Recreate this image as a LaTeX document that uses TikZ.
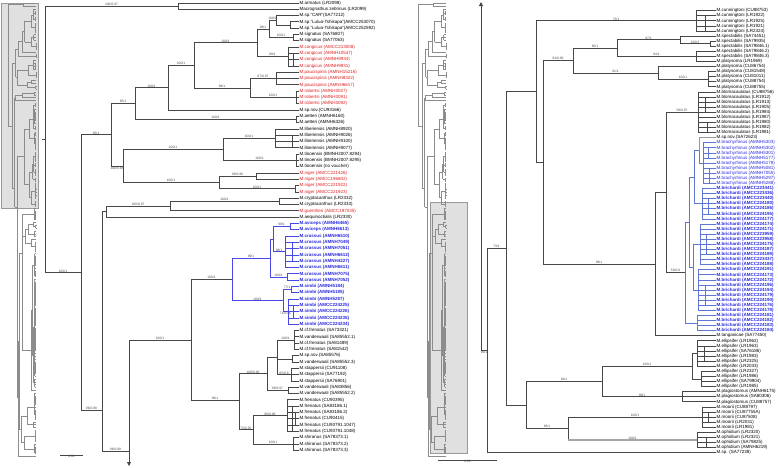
\documentclass[tikz,border=0pt]{standalone}
\usepackage{fontspec}
\setmainfont{Liberation Sans}
\usetikzlibrary{arrows.meta}
\definecolor{tred}{RGB}{226,32,32}
\definecolor{lblue}{RGB}{72,72,230}
\definecolor{rblue}{RGB}{96,118,212}
\definecolor{tblue}{RGB}{40,40,225}
\newcommand\bsl[1]{#1}
\newcommand\ltips[4][br]{%
  \draw[#1] (#2,{3+6.3*(#3-1)}) -- (#2,{3+6.3*(#4-1)});
  \foreach \k in {#3,...,#4} \draw[#1] (#2,{3+6.3*(\k-1)}) -- (299,{3+6.3*(\k-1)});}
\newcommand\rtips[4][br]{%
  \draw[#1] (#2,{10.7+5.08*(#3-1)}) -- (#2,{10.7+5.08*(#4-1)});
  \foreach \k in {#3,...,#4} \draw[#1] (#2,{10.7+5.08*(\k-1)}) -- (716,{10.7+5.08*(\k-1)});}
\tikzset{
  br/.style={line width=0.85pt, black!72, line cap=rect},
  bl/.style={line width=0.95pt, lblue, line cap=rect},
  rb/.style={line width=0.8pt, rblue, line cap=rect},
  gb/.style={line width=1.4pt, black!35},
  bs/.style={above, inner sep=0.2pt, font=\fontsize{3.3}{3.3}\selectfont, text=black!70},
  tip/.style={anchor=west, inner sep=0.5pt, font=\fontsize{4.5}{4.5}\selectfont},
  lk/.style={}, lr/.style={text=tred},
  lb/.style={text=tblue, font=\fontsize{4.5}{4.5}\selectfont\bfseries},
  lp/.style={text=tblue},
  thumb/.style={br/.style={line width=0.25pt,black!45}, bl/.style={line width=0.25pt,black!45},
    rb/.style={line width=0.25pt,black!45}, gb/.style={line width=0.25pt,black!45}}
}
\newcommand\lefttree{%
\draw[br] (42,139.5) -- (45,139.5) (45,6.15) -- (45,272.7)
  (45,6.15) -- node[bs]{\bsl{100/0.97}} (178,6.15)
  (45,272.7) -- node[bs]{\bsl{100/1}} (81,272.7)
  (81,134.8) -- (81,410)
  (81,134.8) -- node[bs]{\bsl{92/1}} (111,134.8)
  (81,410) -- node[bs]{\bsl{96/0.98}} (102,410)
  (111,103.6) -- (111,166)
  (111,103.6) -- node[bs]{\bsl{85/1}} (135,103.6)
  (111,166) -- node[bs,below]{\bsl{100/0.83}} (123,166)
  (135,87.8) -- (135,119.5)
  (135,87.8) -- node[bs]{\bsl{100/1}} (168,87.8)
  (135,119.5) -- node[bs]{\bsl{100/1}} (296,119.5)
  (168,65.4) -- (168,110.1)
  (168,65.4) -- node[bs]{\bsl{100/1}} (194,65.4)
  (168,110.1) -- (299,110.1)
  (194,42.8) -- (194,88)
  (194,42.8) -- node[bs]{\bsl{100/1}} (257,42.8)
  (194,88) -- node[bs]{\bsl{89/1}} (250,88)
  (257,29) -- (257,56.5)
  (257,29) -- node[bs]{\bsl{98/1}} (269,29)
  (257,56.5) -- node[bs]{\bsl{89/1}} (288,56.5)
  (269,20.3) -- (269,37.6)
  (269,20.3) -- node[bs]{\bsl{100/1}} (276,20.3)
  (269,37.6) -- node[bs]{\bsl{100/1}} (293,37.6)
  (276,15.6) -- (276,25.05) (276,15.6) -- (299,15.6) (276,25.05) -- (290,25.05)
  (250,78.6) -- (250,97.5)
  (250,78.6) -- node[bs]{\bsl{87/0.97}} (276,78.6)
  (250,97.5) -- node[bs]{\bsl{100/1}} (296,97.5)
  (123,149.5) -- (123,182.55)
  (123,149.5) -- node[bs]{\bsl{100/1}} (223,149.5)
  (123,182.55) -- node[bs]{\bsl{100/1}} (219,182.55)
  (223,138.45) -- (223,160.5)
  (223,138.45) -- node[bs]{\bsl{100/1}} (275,138.45)
  (223,160.5) -- node[bs]{\bsl{100/1}} (296,160.5)
  (219,176.25) -- (219,188.85)
  (219,176.25) -- node[bs]{\bsl{98/0.99}} (256,176.25)
  (219,188.85) -- node[bs]{\bsl{100/1}} (295,188.85)
  (102,211.7) -- (102,451) (102,211.7) -- (106,211.7)
  (106,206.2) -- (106,217.2)
  (106,206.2) -- node[bs]{\bsl{100/0.97}} (170,206.2)
  (106,217.2) -- (299,217.2)
  (170,201.45) -- (170,210.9)
  (170,201.45) -- node[bs]{\bsl{100/1}} (279,201.45)
  (170,210.9) -- (299,210.9)
  (102,451) -- node[bs]{\bsl{96/0.99}} (129,451)
  (129,340) -- node[bs]{\bsl{100/1}} (191,340)
  (191,279.4) -- (191,400.5)
  (191,279.4) -- node[bs]{\bsl{100/1}} (232,279.4)
  (191,400.5) -- node[bs]{\bsl{96/1}} (239,400.5)
  (239,373.9) -- (239,429.8)
  (239,373.9) -- node[bs]{\bsl{100/0.96}} (267,373.9)
  (239,429.8) -- node[bs]{\bsl{75/0.95}} (253,429.8)
  (267,357.4) -- (267,390.45) (267,357.4) -- (277,357.4)
  (267,390.45) -- node[bs]{\bsl{98/0.97}} (288,390.45)
  (277,340.05) -- (277,374.7)
  (277,340.05) -- node[bs]{\bsl{100/1}} (294,340.05)
  (277,358.95) -- (292,358.95)
  (277,374.7) -- node[bs]{\bsl{85/0.8}} (291,374.7)
  (253,415.65) -- (253,444)
  (253,415.65) -- node[bs]{\bsl{98/0.98}} (287,415.65)
  (253,444) -- node[bs]{\bsl{100/1}} (293,444);
\ltips{178}{1}{2} \ltips{290}{4}{5} \ltips{293}{6}{7} \ltips{288}{8}{11} \ltips{293}{9}{11}
\ltips{276}{12}{14} \ltips{296}{15}{17} \ltips{296}{19}{20} \ltips{275}{21}{24} \ltips{292}{22}{24}
\ltips{296}{25}{27} \ltips{256}{28}{29} \ltips{295}{30}{31} \ltips{279}{32}{33}
\ltips{294}{53}{56} \ltips{292}{57}{58} \ltips{291}{59}{61} \ltips{288}{62}{63}
\ltips{287}{64}{69} \ltips{292}{65}{69} \ltips{295}{66}{68} \ltips{293}{70}{72}
\draw[bl] (232,258.15) -- (232,300.7)
  (232,258.15) -- node[bs]{\bsl{99/1}} (270,258.15)
  (232,300.7) -- node[bs]{\bsl{100/1}} (283,300.7)
  (270,239.25) -- (270,277.05) (270,239.25) -- (273,239.25)
  (273,226.65) -- (273,251.85)
  (273,226.65) -- node[bs]{\bsl{99/1}} (290,226.65)
  (273,251.85) -- node[bs]{\bsl{98/1}} (285,251.85)
  (270,277.05) -- node[bs]{\bsl{100/1}} (287,277.05)
  (283,289.65) -- (283,311.7)
  (283,289.65) -- node[bs]{\bsl{77/1}} (291,289.65)
  (283,311.7) -- node[bs,below]{\bsl{71/0.96}} (288,311.7);
\ltips[bl]{290}{36}{37} \ltips[bl]{285}{38}{43} \ltips[bl]{292}{39}{42} \ltips[bl]{287}{44}{45}
\ltips[bl]{291}{46}{47} \ltips[bl]{288}{48}{52} \ltips[bl]{293}{49}{51}
}
\newcommand\righttree{%
\draw[br] (481,350.5) -- node[bs,below]{\bsl{99/1}} (487,350.5)
  (487,248.4) -- (487,452.66)
  (487,248.4) -- node[bs]{\bsl{73/1}} (506,248.4)
  (487,452.66) -- (716,452.66)
  (506,91.7) -- (506,405) (506,91.7) -- (536,91.7) (506,405) -- (526,405)
  (536,20.86) -- (536,162.5)
  (536,20.86) -- node[bs]{\bsl{73/1}} (696,20.86)
  (536,162.5) -- (543,162.5)
  (543,60.6) -- (543,264.2)
  (543,60.6) -- node[bs]{\bsl{81/0.99}} (573,60.6)
  (543,264.2) -- node[bs]{\bsl{99/1}} (655,264.2)
  (573,48.2) -- (573,73)
  (573,48.2) -- node[bs]{\bsl{85/1}} (617,48.2)
  (573,73) -- node[bs]{\bsl{81/1}} (658,73)
  (617,39.9) -- (617,56.4)
  (617,39.9) -- node[bs]{\bsl{97/1}} (680,39.9)
  (617,56.4) -- node[bs]{\bsl{94/1}} (696,56.4)
  (680,36.1) -- (680,43.7) (680,36.1) -- (716,36.1)
  (680,43.7) -- node[bs]{\bsl{100/1}} (710,43.7)
  (658,66.58) -- (658,79.3) (658,66.58) -- (716,66.58)
  (658,79.3) -- node[bs]{\bsl{100/1}} (708,79.3)
  (655,192.5) -- (655,335.82) (655,192.5) -- (666,192.5) (655,335.82) -- (716,335.82)
  (666,112.3) -- (666,272.6)
  (666,112.3) -- node[bs]{\bsl{58/0.97}} (698,112.3)
  (666,272.6) -- node[bs]{\bsl{59/0.6}} (685,272.6)
  (526,381.5) -- (526,428.5)
  (526,381.5) -- node[bs]{\bsl{94/1}} (602,381.5)
  (526,428.5) -- node[bs]{\bsl{83/1}} (568,428.5)
  (602,366.3) -- (602,396.78)
  (602,366.3) -- node[bs]{\bsl{100/1}} (692,366.3)
  (602,396.78) -- node[bs]{\bsl{99/1}} (682,396.78)
  (692,353.6) -- (692,379) (692,353.6) -- (697,353.6) (692,379) -- (701,379)
  (568,417.1) -- (568,440)
  (568,417.1) -- node[bs]{\bsl{100/1}} (702,417.1);
\draw[gb] (568,440) -- node[bs]{\bsl{100/1}} (697,440);
\rtips{696}{1}{5} \rtips{705}{2}{5} \rtips{696}{9}{11} \rtips{710}{7}{8} \rtips{708}{13}{16}
\rtips{698}{17}{25} \rtips{705}{18}{21} \rtips{707}{23}{25}
\rtips{697}{66}{71} \rtips{704}{67}{70} \rtips{701}{72}{75} \rtips{682}{76}{78}
\rtips{702}{79}{83} \rtips{708}{80}{82} \rtips{697}{84}{87} \rtips{706}{85}{87}
\draw[rb] (685,222.1) -- (685,323.1) (685,222.1) -- (689,222.1)
  (689,177) -- (689,267.25) (689,177) -- (694,177)
  (694,150.4) -- (694,203.7) (694,150.4) -- (699,150.4)
  (699,150.4) -- (699,163.1) (699,163.1) -- (703,163.1)
  (694,203.7) -- (702,203.7)
  (689,267.25) -- (693,267.25)
  (693,244.4) -- (693,290.1) (693,244.4) -- (700,244.4) (693,290.1) -- (698,290.1)
  (685,323.1) -- (697,323.1);
\draw[br,black!40,line width=0.5pt] (699,150.4) -- (699,137.7) -- (716,137.7);
\rtips[rb]{703}{27}{35} \rtips[rb]{708}{28}{30} \rtips[rb]{709}{32}{35}
\rtips[rb]{702}{36}{42} \rtips[rb]{708}{38}{41} \rtips[rb]{700}{43}{51} \rtips[rb]{706}{45}{49}
\rtips[rb]{698}{52}{60} \rtips[rb]{705}{55}{59} \rtips[rb]{697}{61}{64}
}
\newcommand\thumbtree{%
  \begin{scope}[shift={(3.42,1.635)}, xscale=0.109, yscale=0.455]
    \lefttree
    \draw[br] (129,340) -- (129,872);
  \end{scope}
  \begin{scope}[shift={(-20.35,202)}, xscale=0.0787, yscale=0.5607]
    \righttree
  \end{scope}}
\begin{document}
\begin{tikzpicture}[x=1pt, y=-1pt]
\useasboundingbox (0,0) rectangle (778,467);
\fill[white] (0,0) rectangle (778,467);
\filldraw[fill=black!12, draw=black!40, line width=0.5pt] (1,3) rectangle (38,208) (430,202) rectangle (467,453);
\begin{scope}[thumb]
  \renewcommand\bsl[1]{}
  \thumbtree
  \begin{scope}[xshift=410pt] \thumbtree \end{scope}
\end{scope}
\lefttree
\draw[br,-{Triangle[width=4pt,length=4pt]}] (129,340) -- (129,466);
\righttree
\draw[br,-{Triangle[width=4pt,length=4pt]}] (481,350.5) -- (481,2);
\draw[br,line width=0.6pt] (60,455) -- node[bs,below]{0.01} (83,455);
\draw[br,line width=0.6pt] (438,460) -- node[bs,below]{0.01} (497,460);
\foreach \st/\tx [count=\i] in {lk/M.armatus (LR2098), lk/Macrognathus zebrinus (LR2099),
  lk/M.sp."CAR"(SA77212), lk/M.sp."Lulua-Tshikapa"(AMCC253070), lk/M.sp."Lulua-Tshikapa"(AMCC252592),
  lk/M.signatus (SA76807), lk/M.signatus (SA77063),
  lr/M.congicus (AMCC213008), lr/M.congicus (AMNH10547), lr/M.congicus (AMNH9934), lr/M.congicus (AMNH9931),
  lr/M.paucispinis (AMNH15216), lr/M.paucispinis (AMNH8322), lr/M.paucispinis (AMNH6617),
  lr/M.robertsi (AMNH3027), lr/M.robertsi (AMNH3091), lr/M.robertsi (AMNH3092),
  lk/M.sp.nov.(CU93166), lk/M.aetteri (AMNH6160), lk/M.aetteri (AMNH6326),
  lk/M.liberiensis (AMNH8920), lk/M.liberiensis (AMNH9026), lk/M.liberiensis (AMNH9100), lk/M.liberiensis (AMNH9077),
  lk/M.tinoensis (BMNH2007.8294), lk/M.tinoensis (BMNH2007.8295), lk/M.tinoensis (no voucher),
  lr/M.niger (AMCC221426), lr/M.niger (AMCC196802), lr/M.niger (AMCC221922), lr/M.niger (AMCC221923),
  lk/M.cryptacanthus (LR2332), lk/M.cryptacanthus (LR2333), lr/M.guentheri (AMCC197035), lk/M.aequinoctialis (LR2330),
  lb/M.aviceps (AMNH6465), lb/M.aviceps (AMNH6613),
  lb/M.crassus (AMNH6510), lb/M.crassus (AMNH7049), lb/M.crassus (AMNH7051), lb/M.crassus (AMNH6612),
  lb/M.crassus (AMNH4227), lb/M.crassus (AMNH6611), lb/M.crassus (AMNH7075), lb/M.crassus (AMNH7052),
  lb/M.simbi (AMNH5184), lb/M.simbi (AMNH5185), lb/M.simbi (AMNH5287), lb/M.simbi (AMCC224225),
  lb/M.simbi (AMCC224226), lb/M.simbi (AMCC224235), lb/M.simbi (AMCC224234),
  lk/M.cf.frenatus (SA73321), lk/M.vanderwaali (SA85552.1), lk/M.cf.frenatus (SA81489), lk/M.cf.frenatus (SA81542),
  lk/M.sp.nov.(SA85576), lk/M.vanderwaali (SA85552.3),
  lk/M.stappersii (CU91108), lk/M.stappersii (SA77192), lk/M.stappersii (SA76901),
  lk/M.vanderwaali (SA83856), lk/M.vanderwaali (SA85552.2),
  lk/M.frenatus (CU90395), lk/M.frenatus (SA83186.1), lk/M.frenatus (SA83186.2), lk/M.frenatus (CU90415),
  lk/M.frenatus (CU93791.1047), lk/M.frenatus (CU93791.1048),
  lk/M.shiranus (SA78373.1), lk/M.shiranus (SA78373.2), lk/M.shiranus (SA78373.3)}
  \node[tip,\st] (lt\i) at (299,{3+6.3*(\i-1)}) {\tx};
\foreach \st/\tx [count=\i] in {lk/M.cunningtoni (CU88753), lk/M.cunningtoni (LR1922), lk/M.cunningtoni (LR1925),
  lk/M.cunningtoni (LR1921), lk/M.cunningtoni (LR2324),
  lk/M.spectabilis (SA74451), lk/M.spectabilis (SA79935), lk/M.spectabilis (SA79846.1),
  lk/M.spectabilis (SA79846.2), lk/M.spectabilis (SA79846.3),
  lk/M.platysoma (LR1969), lk/M.platysoma (CU86754), lk/M.platysoma (CU81548), lk/M.platysoma (CU81011),
  lk/M.platysoma (CU88754), lk/M.platysoma (CU88755),
  lk/M.blomacaulatus (CU88756), lk/M.blomacaulatus (LR1912), lk/M.blomacaulatus (LR1913),
  lk/M.blomacaulatus (LR1905), lk/M.blomacaulatus (LR1984), lk/M.blomacaulatus (LR1987),
  lk/M.blomacaulatus (LR1980), lk/M.blomacaulatus (LR1982), lk/M.blomacaulatus (LR1981),
  lk/M.sp.nov.(SA72623),
  lp/M.brachyrhinus (AMNH5303), lp/M.brachyrhinus (AMNH5302), lp/M.brachyrhinus (AMNH5301),
  lp/M.brachyrhinus (AMNH5177), lp/M.brachyrhinus (AMNH5178), lp/M.brachyrhinus (AMNH5081),
  lp/M.brachyrhinus (AMNH7055), lp/M.brachyrhinus (AMNH5297), lp/M.brachyrhinus (AMNH5288),
  lb/M.brichardi (AMCC223441), lb/M.brichardi (AMCC223436), lb/M.brichardi (AMCC223440),
  lb/M.brichardi (AMCC224180), lb/M.brichardi (AMCC224186), lb/M.brichardi (AMCC224195),
  lb/M.brichardi (AMCC224177), lb/M.brichardi (AMCC224174), lb/M.brichardi (AMCC224171),
  lb/M.brichardi (AMCC223959), lb/M.brichardi (AMCC223958), lb/M.brichardi (AMCC224175),
  lb/M.brichardi (AMCC224187), lb/M.brichardi (AMCC224189), lb/M.brichardi (AMCC223437),
  lb/M.brichardi (AMCC224188), lb/M.brichardi (AMCC224191), lb/M.brichardi (AMCC224173),
  lb/M.brichardi (AMCC224172), lb/M.brichardi (AMCC224196), lb/M.brichardi (AMCC224194),
  lb/M.brichardi (AMCC224179), lb/M.brichardi (AMCC224190), lb/M.brichardi (AMCC224176),
  lb/M.brichardi (AMCC224178), lb/M.brichardi (AMCC224181), lb/M.brichardi (AMCC224182),
  lb/M.brichardi (AMCC224183), lb/M.brichardi (AMCC224184),
  lk/M.tanganicae (SA77450),
  lk/M.ellipsifer (LR1962), lk/M.ellipsifer (LR1963), lk/M.ellipsifer (SA76186), lk/M.ellipsifer (LR1983),
  lk/M.ellipsifer (LR2325), lk/M.ellipsifer (LR2033), lk/M.ellipsifer (LR2327), lk/M.ellipsifer (LR1986),
  lk/M.ellipsifer (SA79904), lk/M.ellipsifer (LR1985),
  lk/M.plagiostomus (AMNH6175), lk/M.plagiostomus (SA80306), lk/M.plagiostomus (CU88757),
  lk/M.moorii (CU88797), lk/M.moorii (CU87755A), lk/M.moorii (CU87508), lk/M.moorii (LR2031), lk/M.moorii (LR1981),
  lk/M.ophidium (LR2320), lk/M.ophidium (LR2321), lk/M.ophidium (SA79825), lk/M.ophidium (AMNH6219),
  lk/M.sp. (SA77238)}
  \node[tip,\st] (rt\i) at (716,{10.7+5.08*(\i-1)}) {\tx};
\end{tikzpicture}
\end{document}
